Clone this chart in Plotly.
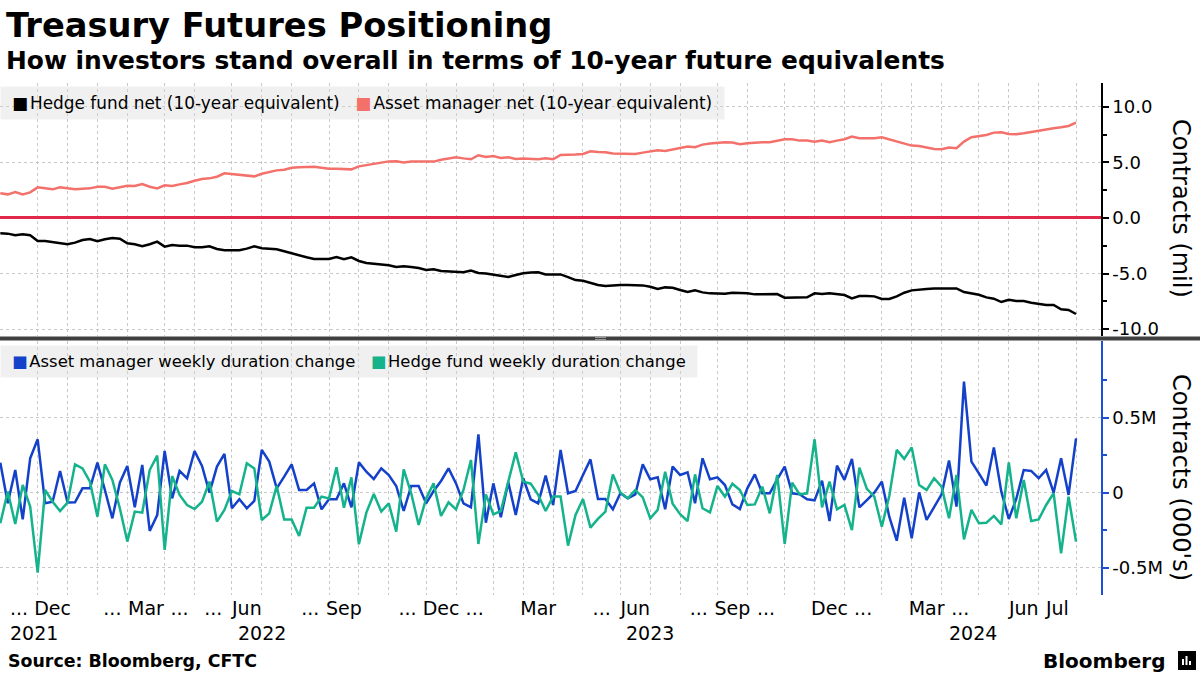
import plotly.graph_objects as go
import pandas as pd

# ---------------- data ----------------
START_DATE = "2021-11-02"          # weekly (Tuesday) CFTC observations
N_WEEKS = 145

hf_net = [  # Hedge fund net (10-year equivalent), millions of contracts
    -1.38, -1.41, -1.56, -1.47, -1.56, -2.07, -2.07, -2.16, -2.28, -2.37,
    -2.22, -1.98, -1.89, -2.10, -1.92, -1.80, -1.86, -2.28, -2.37, -2.55,
    -2.37, -2.13, -2.58, -2.43, -2.49, -2.49, -2.64, -2.64, -2.55, -2.79,
    -2.91, -2.91, -2.91, -2.76, -2.55, -2.73, -2.79, -2.82, -3.00, -3.18,
    -3.42, -3.54, -3.69, -3.69, -3.69, -3.51, -3.72, -3.54, -3.87, -4.05,
    -4.11, -4.17, -4.26, -4.42, -4.35, -4.41, -4.50, -4.68, -4.62, -4.77,
    -4.83, -4.86, -4.89, -4.74, -4.95, -5.01, -5.10, -5.19, -5.32, -5.14,
    -4.98, -4.92, -4.89, -5.08, -5.08, -5.08, -5.32, -5.59, -5.65, -5.86,
    -6.04, -6.13, -6.07, -6.04, -6.04, -6.04, -6.07, -6.19, -6.40, -6.25,
    -6.28, -6.49, -6.67, -6.52, -6.70, -6.79, -6.82, -6.82, -6.73, -6.73,
    -6.79, -6.88, -6.88, -6.91, -6.85, -7.18, -7.15, -7.15, -7.15, -6.79,
    -6.85, -6.79, -6.85, -6.94, -7.24, -7.03, -7.03, -7.06, -7.30, -7.30,
    -7.06, -6.73, -6.52, -6.43, -6.40, -6.34, -6.34, -6.40, -6.34, -6.67,
    -6.79, -6.91, -7.15, -7.27, -7.57, -7.36, -7.48, -7.48, -7.63, -7.75,
    -7.84, -7.84, -8.23, -8.29, -8.65,
]

am_net = [  # Asset manager net (10-year equivalent), millions of contracts
    2.22, 2.13, 2.34, 2.13, 2.31, 2.76, 2.67, 2.58, 2.76, 2.67,
    2.58, 2.64, 2.67, 2.82, 2.82, 2.64, 2.76, 2.91, 2.88, 3.06,
    2.82, 2.67, 2.94, 2.88, 3.03, 3.15, 3.36, 3.51, 3.57, 3.72,
    4.02, 3.96, 3.84, 3.78, 3.75, 3.99, 4.17, 4.29, 4.35, 4.53,
    4.56, 4.56, 4.62, 4.53, 4.44, 4.44, 4.44, 4.38, 4.65, 4.77,
    4.83, 4.98, 5.10, 5.12, 5.00, 5.08, 5.08, 5.08, 5.08, 5.25,
    5.37, 5.47, 5.37, 5.29, 5.65, 5.50, 5.59, 5.41, 5.47, 5.31,
    5.37, 5.34, 5.29, 5.37, 5.29, 5.68, 5.68, 5.71, 5.77, 6.01,
    5.95, 5.92, 5.80, 5.77, 5.77, 5.77, 5.89, 6.01, 6.10, 6.04,
    6.16, 6.28, 6.43, 6.37, 6.61, 6.70, 6.79, 6.82, 6.79, 6.64,
    6.73, 6.79, 6.82, 6.82, 6.94, 7.09, 7.09, 6.97, 6.97, 6.88,
    6.97, 6.82, 6.97, 7.09, 7.33, 7.18, 7.18, 7.18, 7.27, 7.09,
    6.91, 6.70, 6.52, 6.49, 6.37, 6.22, 6.19, 6.34, 6.28, 6.88,
    7.27, 7.39, 7.48, 7.69, 7.72, 7.57, 7.54, 7.63, 7.75, 7.90,
    8.02, 8.08, 8.17, 8.29, 8.59,
]

am_weekly = [  # Asset manager weekly duration change, thousands of contracts
    202, -69, 153, -176, 231, 358, -69, -58, 147, -64,
    -62, 31, 31, 202, 20, -169, 69, 180, -96, 187,
    -253, -147, 280, -36, 147, 98, 280, 180, 2, 176,
    260, -102, -42, -102, -53, 287, 209, 31, 109, 191,
    20, 20, 64, -109, -42, -42, 64, -96, 204, 142,
    93, 164, 120, 47, -120, 47, 47, -69, 13, 80,
    164, 64, -69, -96, 391, -198, 64, -162, 71, -147,
    98, -42, -69, 116, -80, 287, -2, 13, 120, 224,
    -40, -40, -109, -2, -36, -9, 191, 91, 104, -109,
    176, 120, 138, -69, 231, 91, 104, 53, -76, -107,
    31, 124, -2, -2, 91, 176, -2, -9, -42, -49,
    82, -187, 182, 87, 227, -96, -47, 2, 76, -158,
    -318, -31, -302, 4, -180, -91, -9, 216, -91, 742,
    209, 131, 49, 304, 9, -173, -40, 153, 147, 98,
    153, 2, 231, -13, 364,
]

hf_weekly = [  # Hedge fund weekly duration change, thousands of contracts
    -202, 9, -207, 53, -91, -531, 20, -58, -120, -64,
    191, 164, 76, -158, 191, 87, -102, -324, -124, -131,
    153, 249, -380, 113, -13, -80, -107, -58, 76, -191,
    -113, 13, -9, 198, 164, -180, -136, 47, -176, -176,
    -287, -98, -98, -24, -36, 171, -98, 104, -342, -131,
    -7, -124, -69, -258, 158, -2, -213, -36, 64, -153,
    -62, -109, 20, 220, -340, -9, -142, -120, 76, 271,
    76, 62, -13, -120, -24, -24, -351, -147, -40, -231,
    -173, -124, 124, 4, -36, 20, -29, -169, -113, 142,
    -71, -142, -187, 124, -102, -129, 47, -24, 62, 20,
    -80, -76, 42, -136, 120, -340, 69, -9, -2, 358,
    -96, 76, -109, -80, -247, 169, 27, -24, -224, -20,
    287, 227, 304, 53, 20, 98, 42, -169, 120, -309,
    -113, -202, -198, -153, -209, 204, -169, 87, -187, -176,
    -80, -2, -402, -24, -324,
]

# one label per month, Nov 2021 .. Jul 2024 ("..." = thinned label)
MONTH_LABELS = [
    "...", "Dec",
    "", "...", "Mar", "...", "...", "Jun", "", "...", "Sep", "", "...", "Dec",
    "...", "", "Mar", "", "...", "Jun", "", "...", "Sep", "...", "", "Dec",
    "...", "", "Mar", "...", "", "Jun", "Jul",
]
YEAR_LABELS = ["2021", "2022", "2023", "2024"]

TOP_TICKS = [-10, -5, 0, 5, 10]
TOP_TICKTEXT = ["-10.0", "-5.0", "0.0", "5.0", "10.0"]
BOT_TICKS = [-500, 0, 500]
BOT_TICKTEXT = ["-0.5M", "0", "0.5M"]

NAMES = ["Hedge fund net (10-year equivalent)", "Asset manager net (10-year equivalent)",
         "Asset manager weekly duration change", "Hedge fund weekly duration change"]
COLORS = ["#000000", "#f4716b", "#1441c9", "#14b38b"]

# ---------------- derived axis helpers ----------------
dates = pd.date_range(START_DATE, periods=N_WEEKS, freq="7D")
month_first = []
seen = set()
for d in dates:
    k = (d.year, d.month)
    if k not in seen:
        seen.add(k)
        month_first.append(d)
label_pos = [month_first[i] + (month_first[i + 1] - month_first[i]) / 2
             for i in range(len(MONTH_LABELS))]
x_rng = [dates[0] - pd.Timedelta(hours=7), dates[-1] + pd.Timedelta(days=23.4)]

jan_firsts = [d for d in month_first if d.month == 1]
year_bounds = [x_rng[0]] + jan_firsts + [x_rng[1]]
year_pos = [year_bounds[i] + (year_bounds[i + 1] - year_bounds[i]) / 2 for i in range(len(YEAR_LABELS))]

FONT = "DejaVu Sans"
GRID = "#c8c8c8"
BLUE_AXIS = "#1a4fd6"

fig = go.Figure()
fig.add_trace(go.Scatter(x=dates, y=hf_net, mode="lines", name=NAMES[0],
                         line=dict(color=COLORS[0], width=2.5), xaxis="x", yaxis="y", showlegend=False))
fig.add_trace(go.Scatter(x=dates, y=am_net, mode="lines", name=NAMES[1],
                         line=dict(color=COLORS[1], width=2.5), xaxis="x", yaxis="y", showlegend=False))
fig.add_trace(go.Scatter(x=dates, y=am_weekly, mode="lines", name=NAMES[2],
                         line=dict(color=COLORS[2], width=2.5), xaxis="x2", yaxis="y2", showlegend=False))
fig.add_trace(go.Scatter(x=dates, y=hf_weekly, mode="lines", name=NAMES[3],
                         line=dict(color=COLORS[3], width=2.5), xaxis="x2", yaxis="y2", showlegend=False))

minor_grid = dict(tickmode="array", tickvals=month_first, showgrid=True, gridcolor=GRID,
                  griddash="dot", gridwidth=1, ticks="")

PLOT_TOP, PLOT_BOT = 83, 595
PH = PLOT_BOT - PLOT_TOP
def py(px):
    return (PLOT_BOT - px) / PH
PW = 1101
def pxx(px):
    return px / PW

fig.update_layout(
    width=1200, height=675,
    margin=dict(l=0, r=1200 - PW, t=PLOT_TOP, b=675 - PLOT_BOT),
    paper_bgcolor="white", plot_bgcolor="white",
    font=dict(family=FONT, color="#000000", size=18),
    showlegend=False,
    xaxis=dict(domain=[0, 1], anchor="y", type="date", range=x_rng, showticklabels=False,
               showgrid=False, ticks="", zeroline=False, showline=False, minor=minor_grid),
    xaxis2=dict(domain=[0, 1], anchor="y2", type="date", range=x_rng, tickmode="array",
                tickvals=label_pos, ticktext=MONTH_LABELS, showgrid=False, ticks="",
                tickfont=dict(size=19, color="#000000"), zeroline=False, showline=False,
                minor=minor_grid, tickangle=0),
    yaxis=dict(domain=[py(336), 1], anchor="x", side="right", range=[-10.63, 12.16],
               tickmode="array", tickvals=TOP_TICKS, ticktext=TOP_TICKTEXT,
               showgrid=True, gridcolor=GRID, griddash="dot", gridwidth=1,
               zeroline=True, zerolinecolor="#e0284a", zerolinewidth=3,
               showline=True, linecolor="#000000", linewidth=1.5,
               ticks="outside", ticklen=6, tickcolor="#000000", tickwidth=1.5,
               minor=dict(tickmode="array", tickvals=[-7.5, -2.5, 2.5, 7.5], ticks="outside",
                          ticklen=4, tickcolor="#000000", showgrid=False),
               tickfont=dict(size=18, color="#000000")),
    yaxis2=dict(domain=[0, py(341)], anchor="x2", side="right", range=[-680, 1013],
                tickmode="array", tickvals=BOT_TICKS, ticktext=BOT_TICKTEXT,
                showgrid=True, gridcolor=GRID, griddash="dot", gridwidth=1, zeroline=False,
                showline=True, linecolor=BLUE_AXIS, linewidth=1.5,
                ticks="outside", ticklen=6, tickcolor=BLUE_AXIS, tickwidth=1.5,
                minor=dict(tickmode="array", tickvals=[-250, 250, 750], ticks="outside",
                           ticklen=4, tickcolor=BLUE_AXIS, showgrid=False),
                tickfont=dict(size=18, color="#000000")),
)

NB = "\u00a0"
def legend_text(items):
    parts = []
    for name, col in items:
        parts.append(f"<span style='color:{col}'>■</span>\u200a{name}")
    return NB + (NB * 3).join(parts) + NB

ann = []
ann.append(dict(text="Treasury Futures Positioning", x=pxx(4), y=py(25), xref="paper", yref="paper",
                xanchor="left", yanchor="middle", showarrow=False,
                font=dict(family=FONT, size=33.7, color="#000000", weight="bold")))
ann.append(dict(text="How investors stand overall in terms of 10-year future equivalents",
                x=pxx(4), y=py(60), xref="paper", yref="paper", xanchor="left", yanchor="middle",
                showarrow=False, font=dict(family=FONT, size=24.9, color="#000000", weight="bold")))
ann.append(dict(text=legend_text([(NAMES[0], COLORS[0]), (NAMES[1], COLORS[1])]),
                x=0, y=py(86), xref="paper", yref="paper", xanchor="left", yanchor="top",
                showarrow=False, bgcolor="rgba(215,215,215,0.38)", borderpad=6, align="left",
                font=dict(family=FONT, size=16.9, color="#000000")))
ann.append(dict(text=legend_text([(NAMES[2], COLORS[2]), (NAMES[3], COLORS[3])]),
                x=0, y=py(345), xref="paper", yref="paper", xanchor="left", yanchor="top",
                showarrow=False, bgcolor="rgba(215,215,215,0.38)", borderpad=6, align="left",
                font=dict(family=FONT, size=16.4, color="#000000")))
ann.append(dict(text="Contracts (mil)", x=pxx(1181), y=py(208), xref="paper", yref="paper",
                xanchor="center", yanchor="middle", textangle=90, showarrow=False,
                font=dict(family=FONT, size=24, color="#000000")))
ann.append(dict(text="Contracts (000's)", x=pxx(1181), y=py(477), xref="paper", yref="paper",
                xanchor="center", yanchor="middle", textangle=90, showarrow=False,
                font=dict(family=FONT, size=24, color="#000000")))
for lab, pos in zip(YEAR_LABELS, year_pos):
    ann.append(dict(text=lab, x=pos, y=py(633), xref="x2", yref="paper", xanchor="center",
                    yanchor="middle", showarrow=False, font=dict(family=FONT, size=19, color="#000000")))
ann.append(dict(text="Source: Bloomberg, CFTC", x=pxx(6), y=py(661), xref="paper", yref="paper",
                xanchor="left", yanchor="middle", showarrow=False,
                font=dict(family=FONT, size=17.4, color="#000000", weight="bold")))
ann.append(dict(text="Bloomberg", x=pxx(1167), y=py(661), xref="paper", yref="paper",
                xanchor="right", yanchor="middle", showarrow=False,
                font=dict(family=FONT, size=20, color="#000000", weight="bold")))
fig.update_layout(annotations=ann)

shapes = []
# panel separator
shapes.append(dict(type="line", xref="paper", yref="paper", x0=0, x1=pxx(1200), y0=py(338.5), y1=py(338.5),
                   line=dict(color="#3f3f3f", width=4)))
for yy in (337.5, 339.5):
    shapes.append(dict(type="line", xref="paper", yref="paper", x0=pxx(595), x1=pxx(606), y0=py(yy), y1=py(yy),
                       line=dict(color="#9a9a9a", width=1)))
# Bloomberg logo mark
shapes.append(dict(type="rect", xref="paper", yref="paper", x0=pxx(1178), x1=pxx(1196), y0=py(670), y1=py(651),
                   fillcolor="#000000", line=dict(width=0)))
for bx0, bx1, top in ((1182, 1184, 659), (1185.5, 1187.5, 656), (1189, 1191, 661)):
    shapes.append(dict(type="rect", xref="paper", yref="paper", x0=pxx(bx0), x1=pxx(bx1), y0=py(665), y1=py(top),
                       fillcolor="#ffffff", line=dict(width=0)))
fig.update_layout(shapes=shapes)

fig.write_html(
    "out.html",
    config={"displayModeBar": False},
    post_script="document.body.style.margin='0';document.body.style.padding='0';"
                "document.body.style.overflow='hidden';",
)
